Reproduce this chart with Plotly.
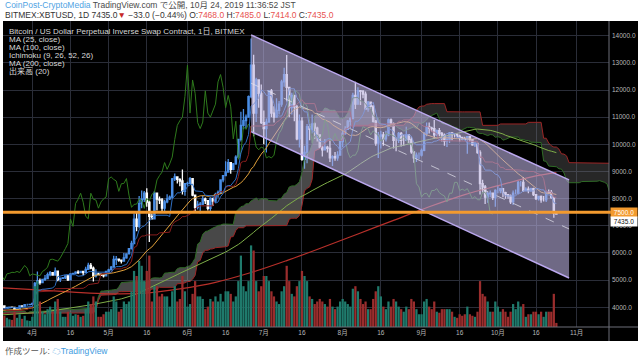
import pandas as pd
import numpy as np
import plotly.graph_objects as go

# ---------------- data ----------------
# warm-up bars (off-screen, only feed the indicators): 2018-12-10 .. 2019-03-19
warm_high = [3600,3520,3530,3510,3320,3260,3290,3600,3720,3950,4150,4200,4000,4050,4250,4050,3850,3820,3950,3980,3920,3900,
             3850,3920,3880,3830,3870,4090,4080,4110,4060,4030,3680,3640,3610,3700,3690,3660,3650,3640,3730,3720,3590,3620,3610,3600,3590,3670,3590,3560,3450,3490,3500,
             3490,3510,3500,3440,3460,3460,3420,3720,3680,3690,3690,3640,3660,3620,3650,3650,3720,3950,4000,3990,4000,3980,4170,4200,3860,3850,3840,3880,
             3870,3850,3840,3810,3880,3890,3910,3940,3950,3950,3930,3900,3890,3920,3920,4020,4000,4020,4040]
warm_low = [3450,3420,3430,3290,3180,3160,3190,3230,3480,3690,3750,3850,3840,3940,3960,3700,3700,3580,3600,3780,3780,3680,
            3630,3800,3750,3730,3780,3780,3980,3960,3990,3580,3560,3560,3480,3500,3560,3570,3550,3570,3590,3530,3500,3490,3530,3550,3540,3560,3510,3400,3380,3400,3440,
            3430,3450,3400,3400,3420,3380,3370,3380,3630,3620,3600,3570,3590,3570,3590,3600,3610,3680,3880,3880,3920,3920,3950,3700,3740,3780,3680,3780,
            3810,3800,3780,3700,3700,3830,3850,3840,3860,3900,3850,3830,3850,3830,3860,3910,3950,3950,3980]
warm_close = [3480,3440,3500,3300,3220,3200,3240,3540,3700,3760,4100,3900,3990,3960,4040,3760,3800,3600,3900,3800,3880,3700,
              3840,3880,3780,3810,3800,4040,4000,4010,4020,3610,3620,3590,3500,3670,3580,3610,3630,3590,3700,3540,3550,3590,3560,3580,3570,3570,3550,3440,3420,3470,3450,
              3470,3500,3420,3420,3450,3400,3390,3650,3660,3680,3610,3620,3610,3590,3610,3630,3690,3900,3910,3980,3930,3960,4120,3750,3830,3810,3800,3820,
              3830,3830,3800,3710,3860,3870,3880,3860,3940,3920,3870,3880,3870,3870,3910,3990,3970,3990,4020]

# visible daily bars: 2019-03-20 .. 2019-10-24
open_ = [4015,4050,3990,4000,4010,3995,3920,3940,4050,4030,4100,4100,
         4105,4140,4880,4970,4910,5030,5060,5200,5280,5190,5330,5020,5070,5080,5160,5010,5230,5250,5290,5280,5320,5280,5400,5540,5440,5160,5230,5200,5180,5160,
         5320,5380,5480,5760,5770,5740,5700,5820,5970,6160,6350,7250,6980,7820,7980,8200,7870,7350,7260,8200,7980,7950,7650,7880,7990,8060,8730,8800,8710,8650,8270,
         8550,8560,8740,8130,7680,7790,7800,7990,7930,7640,8010,7910,8160,8230,8690,8850,8980,9330,9080,9280,9530,10180,10700,10870,11000,11760,12920,11150,12370,11880,
         10800,10580,10820,11970,11150,11000,11250,11480,12300,12570,12100,11350,11800,11380,10200,10850,9450,9700,10650,10550,10750,10600,10350,9900,9800,9900,9850,9500,9550,9500,9600,
         10100,10400,10550,10850,10950,11800,11480,11980,11950,11850,11300,11550,11400,10850,10050,10300,10350,10200,10350,10900,10750,10150,10150,10400,10150,10150,10350,10180,9720,9500,9600,
         9600,9780,10400,10650,10600,10580,10350,10500,10400,10340,10120,10170,10420,10360,10360,10300,10260,10200,10180,10280,10170,9980,10030,9700,8550,8430,8060,8180,8200,8050,
         8300,8300,8370,8220,8150,8100,7880,8200,8200,8600,8600,8300,8350,8300,8370,8150,8000,8080,7960,7960,8240,8230,8040,7468]
high = [4060,4070,4010,4020,4015,4000,3950,4060,4060,4120,4130,4120,
        4160,4930,5320,5060,5050,5190,5280,5340,5290,5470,5350,5100,5120,5180,5200,5250,5270,5330,5360,5350,5330,5490,5640,5630,5500,5400,5270,5250,5200,5340,
        5420,5520,5900,5890,5800,5760,6000,5990,6170,6450,7450,7550,8100,8300,8280,8380,7940,7450,8280,8200,8080,8020,7960,8160,8120,8760,8930,8820,8750,9070,8580,
        8620,8800,8750,8140,7920,7880,8110,8040,7950,8050,8030,8220,8300,8700,8870,9380,9460,9340,9310,9600,10180,11200,11300,11100,11800,13900,13300,12450,12380,12200,
        11250,10950,11980,12040,11400,11700,11600,12380,12820,13290,12110,11900,11830,11450,11100,11000,9950,10750,10750,11100,10800,10650,10350,9950,10200,9950,10200,9600,9720,9750,10100,
        10500,10670,10900,11000,11900,12300,12100,12000,12000,11950,11600,11580,11450,10900,10450,10500,10450,10500,10950,10950,10800,10250,10450,10450,10350,10650,10380,10280,9730,9700,9700,
        9850,10450,10800,10800,10650,10900,10550,10600,10450,10400,10300,10450,10450,10400,10400,10350,10280,10280,10300,10300,10200,10100,10050,9780,8700,8500,8250,8300,8210,8350,
        8500,8380,8380,8250,8170,8150,8300,8340,8650,8650,8800,8420,8450,8400,8400,8170,8100,8120,8100,8300,8340,8320,8050,7485]
low = [3995,3960,3975,3985,3980,3900,3910,3930,4010,4020,4060,4090,
       4080,4140,4800,4830,4900,4970,5050,5140,5160,5170,4960,4930,5040,5040,4970,5000,5210,5240,5230,5270,5180,5260,5390,5400,4950,5100,5180,5160,5100,5150,
       5310,5370,5460,5560,5680,5610,5690,5790,5960,6130,6350,6800,6900,7650,7880,7700,6400,7230,7260,7560,7800,7520,7500,7830,7950,8000,8650,8560,8460,8150,8110,
       8480,8550,8090,7500,7600,7450,7770,7800,7560,7510,7730,7840,8030,8170,8600,8850,8970,8920,9050,9250,9530,10100,10560,10580,11000,11700,10300,10820,11350,10750,
       10000,9700,10820,11000,10800,10980,11100,11380,12120,11580,11000,11100,10850,10150,9880,9400,9100,9300,10150,10400,10200,10100,9850,9550,9800,9700,9350,9200,9400,9400,9580,
       9900,10350,10550,10600,10950,11300,11470,11450,11700,11300,11200,11300,10800,9950,9500,9850,9950,10100,10300,10650,9850,9750,10050,9920,9950,10150,10050,9650,9320,9350,9450,
       9550,9750,10300,10400,10450,10200,10300,10300,10100,9950,9900,10050,10150,10250,10250,10100,10150,10150,9650,10100,9950,9900,9650,8150,8200,7800,7850,8050,7950,7700,
       8200,8200,8050,8000,8000,7800,7770,8150,8150,8450,8250,8280,8200,8250,8100,7950,7930,7850,7900,7880,8180,8000,7300,7414]
close = [4050,3990,4000,4010,3995,3920,3940,4050,4030,4100,4100,4105,
         4140,4880,4970,4910,5030,5060,5200,5280,5190,5330,5020,5070,5080,5160,5010,5230,5250,5290,5280,5320,5280,5400,5540,5440,5160,5230,5200,5180,5160,5320,
         5380,5480,5760,5770,5740,5700,5820,5970,6160,6350,7250,6980,7820,7980,8200,7870,7350,7260,8200,7980,7950,7650,7880,7990,8060,8730,8800,8710,8650,8270,8550,
         8560,8740,8130,7680,7790,7800,7990,7930,7640,8010,7910,8160,8230,8690,8850,8980,9330,9080,9280,9530,10180,10700,10870,11000,11760,12920,11150,12370,11880,10800,
         10580,10820,11970,11150,11000,11250,11480,12300,12570,12100,11350,11800,11380,10200,10850,9450,9700,10650,10550,10750,10600,10350,9900,9800,9900,9850,9500,9550,9500,9600,10100,
         10400,10550,10850,10950,11800,11480,11980,11950,11850,11300,11550,11400,10850,10050,10300,10350,10200,10350,10900,10750,10150,10150,10400,10150,10150,10350,10180,9720,9500,9600,9600,
         9780,10400,10650,10600,10580,10350,10500,10400,10340,10120,10170,10420,10360,10360,10300,10260,10200,10180,10280,10170,9980,10030,9700,8550,8430,8060,8180,8200,8050,8300,
         8300,8370,8220,8150,8100,7880,8200,8200,8600,8600,8300,8350,8300,8370,8150,8000,8080,7960,7960,8240,8230,8040,7468,7435]
volume = [2.0,2.2,1.8,1.5,1.4,3.0,1.8,2.5,1.6,2.2,1.3,1.2,
          2.0,8.0,9.0,5.0,3.0,2.5,3.5,4.0,3.0,5.0,5.5,3.0,2.0,2.0,3.0,2.8,2.2,2.5,2.4,2.0,2.2,3.5,5.0,4.5,6.0,5.0,2.0,2.0,2.5,3.0,
          3.0,3.5,6.0,5.0,3.0,3.5,5.0,4.5,5.0,7.0,11.0,10.0,13.0,12.0,9.0,11.0,14.0,5.0,8.0,8.0,6.0,6.5,6.0,6.0,4.0,7.0,8.0,5.0,5.5,10.0,7.0,
          4.0,4.5,6.5,9.0,6.0,6.0,5.5,3.5,4.0,5.5,5.0,6.0,5.0,6.5,5.0,7.0,7.0,6.5,5.0,6.0,9.0,14.0,8.0,7.0,9.0,16.0,15.0,9.0,7.0,8.0,
          10.0,10.0,9.0,7.0,6.0,5.0,4.5,7.0,8.0,12.0,9.0,6.5,6.0,8.0,9.0,11.0,10.0,9.0,6.0,5.5,4.5,5.0,5.5,5.0,4.5,4.0,5.5,4.0,3.5,4.0,5.0,
          5.5,5.0,4.5,4.0,7.5,8.0,7.0,5.5,4.5,5.0,3.5,3.5,5.5,7.0,8.0,6.0,4.0,3.5,5.0,4.0,5.5,5.0,4.0,3.5,3.0,4.0,3.5,5.5,5.0,3.5,2.5,
          2.5,5.0,5.5,4.0,3.5,5.0,3.0,2.8,3.5,3.5,3.5,3.5,3.0,2.0,1.8,2.5,2.2,2.5,4.0,2.5,2.2,2.0,3.0,9.0,6.5,6.0,5.0,3.0,3.0,5.0,
          4.0,3.0,3.5,3.0,2.0,3.0,4.5,3.5,5.0,4.0,4.5,2.0,2.5,2.5,3.0,3.0,2.5,3.0,2.0,3.0,3.0,3.0,6.5,0.8]

# MA(200)
ma200_dates = ["2019-03-20","2019-04-03","2019-04-17","2019-05-01","2019-05-15","2019-05-29","2019-06-12","2019-06-26",
               "2019-07-10","2019-07-24","2019-08-07","2019-08-21","2019-09-04","2019-09-18","2019-10-02","2019-10-16","2019-10-24"]
ma200_vals = [4720,4640,4560,4500,4520,4680,4920,5280,5720,6200,6700,7200,7700,8150,8500,8840,8960]

# parallel channel drawing
channel_dates = ["2019-06-26", "2019-10-29"]
channel_upper = [14030, 8690]
channel_lower = [10470, 5080]

level_price = 7500
last_price = 7435

x_tickvals = ["2019-04-01","2019-04-16","2019-05-01","2019-05-16","2019-06-01","2019-06-16","2019-07-01","2019-07-16",
              "2019-08-01","2019-08-16","2019-09-01","2019-09-16","2019-10-01","2019-10-16","2019-11-01"]
x_ticktext = ["4月","16","5月","16","6月","16","7月","16","8月","16","9月","16","10月","16","11月"]
y_tickvals = [4000,5000,6000,7000,8000,9000,10000,11000,12000,13000,14000]

# ---------------- checks / series ----------------
n = len(close)
assert len(open_) == n and len(high) == n and len(low) == n and len(volume) == n
assert len(warm_high) == len(warm_low) == len(warm_close)

warm_dates = pd.date_range("2018-12-10", periods=len(warm_close), freq="D")
dates = pd.date_range("2019-03-20", periods=n, freq="D")
all_dates = warm_dates.append(dates)
H = pd.Series(warm_high + high, index=all_dates, dtype=float)
L = pd.Series(warm_low + low, index=all_dates, dtype=float)
C = pd.Series(warm_close + close, index=all_dates, dtype=float)

ma25 = C.rolling(25).mean()
ma100 = C.rolling(100).mean()
conv = (H.rolling(9).max() + L.rolling(9).min()) / 2
base = (H.rolling(26).max() + L.rolling(26).min()) / 2
lead1 = (conv + base) / 2
lead2 = (H.rolling(52).max() + L.rolling(52).min()) / 2
disp = pd.Timedelta(days=25)
lead_dates = all_dates + disp
lag_dates = all_dates - disp

valid = lead1.notna() & lead2.notna()
ld = lead_dates[valid.values]
A = lead1[valid].values
B = lead2[valid].values
top = np.maximum(A, B)

vis_start = pd.Timestamp("2019-03-10")
mvis = all_dates >= vis_start

# ---------------- figure ----------------
BLUE = "#4a8ee6"
fig = go.Figure()

vol_colors = ["#1f7a6c" if c >= o else "#9a2d2d" for o, c in zip(open_, close)]
fig.add_trace(go.Bar(x=dates, y=volume, marker=dict(color=vol_colors, line=dict(width=0)),
                     yaxis="y2", hoverinfo="skip"))

# cloud (bullish lighter, bearish darker)
fig.add_trace(go.Scatter(x=ld, y=B, mode="lines", line=dict(width=0), hoverinfo="skip"))
fig.add_trace(go.Scatter(x=ld, y=top, mode="lines", line=dict(width=0), fill="tonexty",
                         fillcolor="rgba(190,190,190,0.38)", hoverinfo="skip"))
fig.add_trace(go.Scatter(x=ld, y=A, mode="lines", line=dict(width=0), hoverinfo="skip"))
fig.add_trace(go.Scatter(x=ld, y=top, mode="lines", line=dict(width=0), fill="tonexty",
                         fillcolor="rgba(120,120,120,0.32)", hoverinfo="skip"))
fig.add_trace(go.Scatter(x=ld, y=A, mode="lines", line=dict(color="#2f6b26", width=1)))
fig.add_trace(go.Scatter(x=ld, y=B, mode="lines", line=dict(color="#9c2626", width=1)))

# MAs
fig.add_trace(go.Scatter(x=ma200_dates, y=ma200_vals, mode="lines", line=dict(color="#b8302a", width=1.2, shape="spline")))
fig.add_trace(go.Scatter(x=all_dates[mvis], y=ma100[mvis], mode="lines", line=dict(color="#7fae48", width=1)))
fig.add_trace(go.Scatter(x=all_dates[mvis], y=ma25[mvis], mode="lines", line=dict(color="#e3a23b", width=1)))

# Ichimoku lines
fig.add_trace(go.Scatter(x=lag_dates, y=C, mode="lines", line=dict(color="#2e7a1c", width=1)))
fig.add_trace(go.Scatter(x=all_dates[mvis], y=base[mvis], mode="lines", line=dict(color="#8a1e1e", width=1)))
fig.add_trace(go.Scatter(x=all_dates[mvis], y=conv[mvis], mode="lines", line=dict(color="#2f6fc4", width=1)))

# candles
fig.add_trace(go.Candlestick(x=dates, open=open_, high=high, low=low, close=close,
                             increasing=dict(line=dict(color=BLUE, width=1.3), fillcolor=BLUE),
                             decreasing=dict(line=dict(color="#ffffff", width=1.3), fillcolor="#ffffff"),
                             whiskerwidth=0, hoverinfo="skip"))

# channel drawing
cx = [channel_dates[0], channel_dates[1], channel_dates[1], channel_dates[0], channel_dates[0]]
cy = [channel_upper[0], channel_upper[1], channel_lower[1], channel_lower[0], channel_upper[0]]
fig.add_trace(go.Scatter(x=cx, y=cy, mode="lines", fill="toself", fillcolor="rgba(185,175,222,0.6)",
                         line=dict(width=0), hoverinfo="skip"))
fig.add_trace(go.Scatter(x=channel_dates, y=channel_upper, mode="lines", line=dict(color="#bba8ee", width=1.5)))
fig.add_trace(go.Scatter(x=channel_dates, y=channel_lower, mode="lines", line=dict(color="#bba8ee", width=1.5)))
mid = [(u + l) / 2 for u, l in zip(channel_upper, channel_lower)]
fig.add_trace(go.Scatter(x=channel_dates, y=mid, mode="lines", line=dict(color="rgba(230,230,240,0.7)", width=1, dash="dash")))

# ---------------- layout ----------------
W, Hh = 640, 359
ml, mr, mt, mb = 3, 31, 21, 32
pw, ph = W - ml - mr, Hh - mt - mb
def px(xp): return (xp - ml) / pw
def py(yp): return (Hh - mb - yp) / ph

FONT = "Liberation Sans, Noto Sans CJK JP, sans-serif"
shapes = [
    dict(type="rect", xref="paper", yref="paper", x0=0, x1=px(638), y0=py(341), y1=1,
         fillcolor="#000000", line=dict(width=0), layer="below"),
    dict(type="line", xref="paper", yref="paper", x0=1, x1=1, y0=py(341), y1=1,
         line=dict(color="#6d6f78", width=1), layer="above"),
    dict(type="line", xref="paper", yref="paper", x0=0, x1=px(638), y0=0, y1=0,
         line=dict(color="#6d6f78", width=1), layer="above"),
    dict(type="line", xref="paper", yref="y", x0=0, x1=1.003, y0=level_price, y1=level_price,
         line=dict(color="#f39a2e", width=3), layer="above"),
]

ann = []
ann.append(dict(xref="paper", yref="paper", x=px(3), y=py(5), xanchor="left", yanchor="middle", showarrow=False,
                text="<span style='color:#4fa3e3'>CoinPost-CryptoMedia</span> TradingView.com で公開, 10月 24, 2019 11:36:52 JST",
                font=dict(family=FONT, size=8.5, color="#4a4a4a")))
red = "#e8524f"
ann.append(dict(xref="paper", yref="paper", x=px(3), y=py(14.5), xanchor="left", yanchor="middle", showarrow=False,
                text=("BITMEX:XBTUSD, 1D 7435.0<span style='color:#c62828'>▼</span> −33.0 (−0.44%) O:"
                      f"<span style='color:{red}'>7468.0</span> H:<span style='color:{red}'>7485.0</span> "
                      f"L:<span style='color:{red}'>7414.0</span> C:<span style='color:{red}'>7435.0</span>"),
                font=dict(family=FONT, size=8.5, color="#333333")))
legend_lines = ["Bitcoin / US Dollar Perpetual Inverse Swap Contract, 1日, BITMEX", "MA (25, close)", "MA (100, close)",
                "Ichimoku (9, 26, 52, 26)", "MA (200, close)", "出来高 (20)"]
legend_y = [31, 39.3, 47, 55.3, 63.3, 71]
for t, yy in zip(legend_lines, legend_y):
    ann.append(dict(xref="paper", yref="paper", x=px(7), y=py(yy), xanchor="left", yanchor="middle", showarrow=False,
                    text=t, font=dict(family=FONT, size=8, color="#d8d8d8")))
ann.append(dict(xref="paper", yref="paper", x=px(3), y=py(351), xanchor="left", yanchor="middle", showarrow=False,
                text="作成ツール: <span style='color:#3d9be0'>☁TradingView</span>",
                font=dict(family=FONT, size=8.5, color="#555555")))
ann.append(dict(xref="paper", yref="y", x=px(610), y=level_price, xanchor="left", yanchor="middle", showarrow=False,
                text="7500.0", bgcolor="#f39a2e", borderpad=1, width=24,
                font=dict(family=FONT, size=6.5, color="#ffffff")))
ann.append(dict(xref="paper", yref="paper", x=px(610), y=py(221), xanchor="left", yanchor="middle", showarrow=False,
                text=f"{last_price:.1f}", bgcolor="#ffffff", borderpad=1, width=24,
                font=dict(family=FONT, size=6.5, color="#111111")))

x0 = pd.Timestamp("2019-04-01") - pd.Timedelta(days=(32.3 - ml) / 2.544)
x1 = pd.Timestamp("2019-04-01") + pd.Timedelta(days=(ml + pw - 32.3) / 2.544)

fig.update_layout(
    width=W, height=Hh, margin=dict(l=ml, r=mr, t=mt, b=mb, pad=0),
    paper_bgcolor="#ffffff", plot_bgcolor="#000000", showlegend=False,
    shapes=shapes, annotations=ann, bargap=0.12,
    xaxis=dict(type="date", range=[x0, x1], rangeslider=dict(visible=False), tickvals=x_tickvals, ticktext=x_ticktext,
               showgrid=True, gridcolor="#2a2d38", gridwidth=1, zeroline=False, showline=False, ticks="",
               tickfont=dict(family=FONT, size=6.5, color="#b8b8b8"), fixedrange=True),
    yaxis=dict(range=[3275, 14541], side="right", tickvals=y_tickvals, tickformat=".1f",
               showgrid=True, gridcolor="#2a2d38", gridwidth=1, zeroline=False, showline=False, ticks="",
               tickfont=dict(family=FONT, size=6.5, color="#b8b8b8"), ticklabelstandoff=2),
    yaxis2=dict(overlaying="y", range=[0, 60], visible=False, showgrid=False),
)

fig.write_html("out.html", config={"displayModeBar": False},
               post_script="document.body.style.margin='0';document.body.style.padding='0';")
